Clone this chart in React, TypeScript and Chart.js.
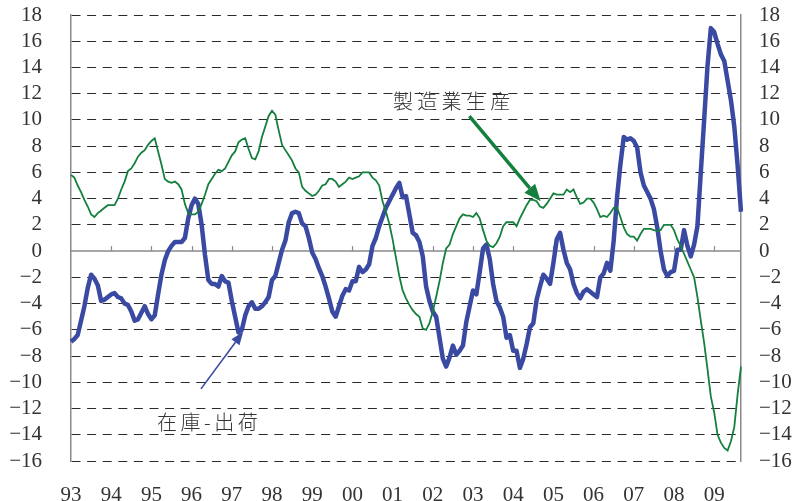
import React, { useEffect, useRef } from "react";
import { Chart, registerables } from "chart.js";

Chart.register(...registerables);

// ---- data ----
const years = ["93", "94", "95", "96", "97", "98", "99", "00", "01", "02", "03", "04", "05", "06", "07", "08", "09"];
const months = ["01", "02", "03", "04", "05", "06", "07", "08", "09", "10", "11", "12"];
const lastMonthCount = 201; // Jan 1993 .. Sep 2009
const categories = years.flatMap((y) => months.map((m) => y + "/" + m)).slice(0, lastMonthCount);

const yTicks = [-16, -14, -12, -10, -8, -6, -4, -2, 0, 2, 4, 6, 8, 10, 12, 14, 16, 18];

// 製造業生産 (green, thin)
const production = [
  5.8, 5.6, 5.0, 4.5, 3.9, 3.4, 2.8, 2.6, 2.9, 3.1, 3.3, 3.5,
  3.5, 3.5, 4.0, 4.7, 5.3, 6.1, 6.3, 6.7, 7.2, 7.5, 7.7, 8.1,
  8.4, 8.6, 7.6, 6.6, 5.5, 5.3, 5.2, 5.3, 5.1, 4.7, 3.6, 2.9,
  2.8, 2.8, 3.0, 3.6, 4.3, 5.1, 5.5, 5.9, 6.2, 6.1, 6.3, 6.8,
  7.3, 7.6, 8.3, 8.5, 8.6, 7.8, 7.1, 7.0, 7.6, 8.7, 9.5, 10.3,
  10.7, 10.4, 9.2, 8.1, 7.7, 7.3, 6.9, 6.3, 6.0, 4.9, 4.6, 4.4,
  4.2, 4.3, 4.6, 5.0, 5.1, 5.5, 5.5, 5.3, 4.9, 5.1, 5.3, 5.6,
  5.5, 5.6, 5.7, 6.0, 6.0, 6.0, 5.6, 5.4, 5.0, 3.8, 3.0, 2.1,
  0.9, -0.5, -1.9, -3.0, -3.6, -4.1, -4.5, -4.8, -5.0, -5.9, -6.0, -5.5,
  -4.6, -3.5, -2.3, -0.9, 0.2, 0.5, 1.3, 1.9, 2.5, 2.8, 2.7, 2.7,
  2.6, 2.9, 2.5, 1.6, 0.8, 0.4, 0.3, 0.6, 1.1, 1.9, 2.2, 2.2,
  2.2, 1.9, 2.5, 3.0, 3.5, 3.9, 3.9, 3.8, 3.4, 3.3, 3.6, 4.0,
  4.4, 4.3, 4.3, 4.3, 4.7, 4.5, 4.7, 4.1, 3.6, 3.7, 4.0, 4.0,
  3.7, 3.2, 2.6, 2.7, 2.6, 2.9, 3.3, 3.3, 2.6, 1.8, 1.3, 1.1,
  1.1, 0.8, 1.3, 1.7, 1.7, 1.7, 1.6, 1.55, 1.6, 2.0, 2.0, 2.0,
  1.6, 0.9, 0.4, -0.2, -0.8, -1.4, -2.0, -3.5, -5.3, -7.0, -9.0, -11.1,
  -12.3, -14.0, -14.6, -15.0, -15.2, -14.5, -13.4, -10.9, -8.8,
];

// 在庫-出荷 (blue, thick)
const inventoryMinusShipments = [
  -6.9, -6.7, -6.4, -5.3, -4.2, -2.8, -1.8, -2.1, -2.6, -3.8, -3.7, -3.5,
  -3.3, -3.2, -3.5, -3.6, -4.0, -4.1, -4.6, -5.3, -5.2, -4.7, -4.2, -4.8,
  -5.2, -4.9, -3.3, -1.8, -0.7, 0.0, 0.4, 0.7, 0.7, 0.7, 1.0, 2.5,
  3.5, 4.0, 3.6, 2.0, -0.3, -2.2, -2.5, -2.5, -2.7, -1.9, -2.3, -2.4,
  -3.8, -5.0, -6.2, -6.0, -4.9, -4.2, -3.9, -4.4, -4.4, -4.2, -3.9, -3.5,
  -2.2, -1.9, -0.9, 0.1, 0.8, 2.2, 2.9, 3.0, 2.9, 2.1, 1.9, 1.0,
  -0.1, -0.6, -1.3, -1.9, -2.7, -3.6, -4.6, -5.0, -4.2, -3.4, -2.9, -3.0,
  -2.3, -2.3, -1.2, -1.6, -1.4, -1.0, 0.4, 1.0, 1.9, 2.6, 3.3, 3.8,
  4.3, 4.8, 5.2, 4.1, 4.2, 2.8, 1.4, 1.2, 0.7, -0.4, -2.7, -3.8,
  -4.6, -5.0, -6.6, -8.2, -8.8, -8.1, -7.2, -7.9, -7.6, -7.2, -5.4, -4.2,
  -3.0, -3.3, -1.6, 0.2, 0.5, -0.6, -2.5, -3.8, -4.3, -5.0, -6.6, -6.4,
  -7.6, -7.6, -8.9, -8.2, -7.1, -5.8, -5.5, -3.7, -2.7, -1.8, -2.1, -2.5,
  -0.9, 0.9, 1.4, 0.1, -0.9, -1.4, -2.5, -3.2, -3.6, -3.1, -2.9, -3.1,
  -3.3, -3.5, -2.0, -1.7, -0.9, -1.5, 0.8, 4.1, 6.6, 8.7, 8.5, 8.6,
  8.4, 7.9, 6.0, 5.0, 4.5, 4.0, 3.2, 1.8, 0.0, -1.4, -1.9, -1.6,
  -1.5, 0.1, 0.1, 1.6, 0.4, -0.4, 0.5, 1.9, 6.0, 10.0, 14.1, 17.0,
  16.7, 15.8, 15.0, 14.5, 13.0, 11.5, 9.5, 6.5, 3.0,
];

// annotation anchors in data coordinates [monthIndex, value]
const prodLabelAt = [96.1, 11.4];
const prodArrowFrom = [118.9, 10.3];
const prodArrowTo = [140.2, 3.8];
const invLabelAt = [25.7, -13.05];
const invArrowFrom = [38.8, -10.5];
const invArrowTo = [51.4, -6.15];

const BLUE = "#3a4aa2";
const GREEN = "#15803d";
const AXIS_GRAY = "#8a8a8a";
const TEXT = "#333333";
const SERIF = "'Liberation Serif', 'DejaVu Serif', serif";
const CJK = "'Noto Sans CJK JP', 'Noto Sans CJK SC', sans-serif";

function drawArrow(ctx, x1, y1, x2, y2, lw, headLen, headW, color) {
  const ang = Math.atan2(y2 - y1, x2 - x1);
  const bx = x2 - headLen * Math.cos(ang);
  const by = y2 - headLen * Math.sin(ang);
  ctx.save();
  ctx.strokeStyle = color;
  ctx.fillStyle = color;
  ctx.lineWidth = lw;
  ctx.beginPath();
  ctx.moveTo(x1, y1);
  ctx.lineTo(bx, by);
  ctx.stroke();
  const px = -Math.sin(ang) * headW / 2;
  const py = Math.cos(ang) * headW / 2;
  ctx.beginPath();
  ctx.moveTo(x2, y2);
  ctx.lineTo(bx + px, by + py);
  ctx.lineTo(bx - px, by - py);
  ctx.closePath();
  ctx.fill();
  ctx.restore();
}

function drawSpaced(ctx, text, x, y, spacing) {
  let cx = x;
  for (const ch of Array.from(text)) {
    ctx.fillText(ch, cx, y);
    cx += ctx.measureText(ch).width + spacing;
  }
}

const overlayPlugin = {
  id: "overlay",
  beforeDatasetsDraw(chart) {
    const { ctx, chartArea } = chart;
    const xs = chart.scales.x;
    const ys = chart.scales.y;
    const y0 = ys.getPixelForValue(0);
    ctx.save();
    ctx.strokeStyle = AXIS_GRAY;
    ctx.lineWidth = 1.5;
    ctx.beginPath();
    ctx.moveTo(chartArea.left, y0);
    ctx.lineTo(chartArea.right, y0);
    ctx.stroke();
    ctx.lineWidth = 1.2;
    for (let i = 12; i < categories.length; i += 12) {
      const x = Math.round(xs.getPixelForValue(i)) + 0.5;
      ctx.beginPath();
      ctx.moveTo(x, y0);
      ctx.lineTo(x, y0 - 5);
      ctx.stroke();
    }
    ctx.restore();
  },
  afterDatasetsDraw(chart) {
    const { ctx } = chart;
    const xs = chart.scales.x;
    const ys = chart.scales.y;
    const px = (p) => [xs.getPixelForValue(p[0]), ys.getPixelForValue(p[1])];
    const [gx1, gy1] = px(prodArrowFrom);
    const [gx2, gy2] = px(prodArrowTo);
    drawArrow(ctx, gx1, gy1, gx2, gy2, 3.5, 17, 14, GREEN);
    const [bx1, by1] = px(invArrowFrom);
    const [bx2, by2] = px(invArrowTo);
    drawArrow(ctx, bx1, by1, bx2, by2, 1.6, 13, 10, BLUE);

    ctx.save();
    ctx.fillStyle = TEXT;
    ctx.textBaseline = "middle";
    ctx.textAlign = "left";
    ctx.font = `300 20px ${CJK}`;
    const [tx, ty] = px(prodLabelAt);
    drawSpaced(ctx, "製造業生産", tx, ty, 4.3);
    const [ix, iy] = px(invLabelAt);
    drawSpaced(ctx, "在庫-出荷", ix, iy, 3.5);
    ctx.restore();
  },
};

const yTickCallback = (v) => String(v).replace("-", "\u2212");

export default function App() {
  const ref = useRef<HTMLCanvasElement | null>(null);
  useEffect(() => {
    if (!ref.current) return;
    const chart = new Chart(ref.current, {
      type: "line",
      data: {
        labels: categories,
        datasets: [
          {
            label: "製造業生産",
            data: production,
            borderColor: GREEN,
            borderWidth: 1.8,
            pointRadius: 0,
            tension: 0,
            yAxisID: "y",
          },
          {
            label: "在庫-出荷",
            data: inventoryMinusShipments,
            borderColor: BLUE,
            borderWidth: 4.5,
            pointRadius: 0,
            tension: 0,
            borderJoinStyle: "round",
            yAxisID: "y",
          },
        ],
      },
      options: {
        responsive: false,
        animation: false,
        devicePixelRatio: 1,
        layout: { padding: { top: 15, left: 0, right: 0, bottom: 0 } },
        plugins: { legend: { display: false }, tooltip: { enabled: false } },
        scales: {
          x: {
            type: "category",
            offset: false,
            grid: { display: false, drawTicks: false },
            border: { display: false },
            ticks: {
              autoSkip: false,
              maxRotation: 0,
              minRotation: 0,
              padding: 22,
              color: TEXT,
              font: { family: SERIF, size: 21 },
              callback: (_v, idx) => (idx % 12 === 0 ? years[idx / 12] : null),
            },
            afterFit: (s) => {
              s.height = 40;
            },
          },
          y: {
            position: "left",
            min: -16,
            max: 18,
            afterBuildTicks: (s) => {
              s.ticks = yTicks.map((v) => ({ value: v }));
            },
            grid: {
              drawTicks: true,
              tickLength: 29,
              tickColor: "rgba(0,0,0,0)",
              color: (c) => (c.tick && c.tick.value === 0 ? "rgba(0,0,0,0)" : "#2a2a2a"),
              lineWidth: 1,
            },
            border: { display: true, color: AXIS_GRAY, width: 1.5, dash: [9, 6.6] },
            ticks: {
              autoSkip: false,
              padding: 0,
              color: TEXT,
              font: { family: SERIF, size: 21 },
              callback: yTickCallback,
            },
            afterFit: (s) => {
              s.width = 71;
            },
          },
          y2: {
            position: "right",
            min: -16,
            max: 18,
            afterBuildTicks: (s) => {
              s.ticks = yTicks.map((v) => ({ value: v }));
            },
            grid: { drawOnChartArea: false, drawTicks: true, tickLength: 18, tickColor: "rgba(0,0,0,0)" },
            border: { display: true, color: AXIS_GRAY, width: 1.5 },
            ticks: {
              autoSkip: false,
              padding: 0,
              color: TEXT,
              font: { family: SERIF, size: 21 },
              callback: yTickCallback,
            },
            afterFit: (s) => {
              s.width = 54;
            },
          },
        },
      },
      plugins: [overlayPlugin],
    });
    return () => chart.destroy();
  }, []);
  return (
    <div style={{ position: "absolute", left: 0, top: 0, width: 795, height: 501, background: "#fff" }}>
      <canvas ref={ref} width={795} height={501} style={{ display: "block" }} />
    </div>
  );
}
